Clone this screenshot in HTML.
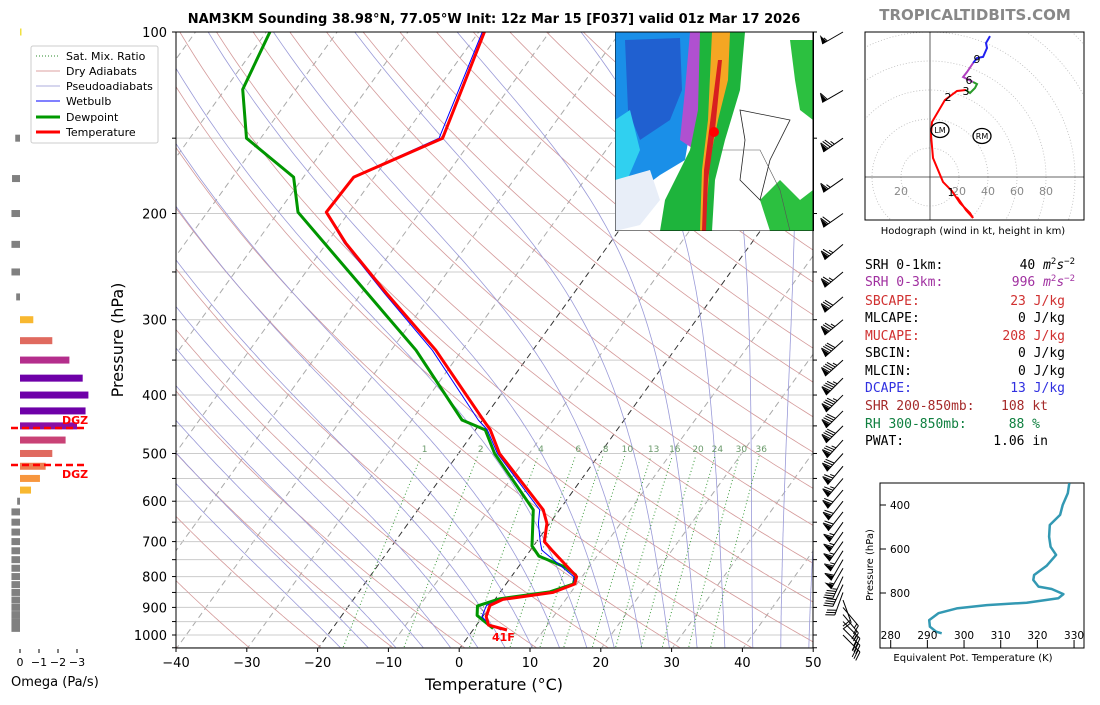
<!DOCTYPE html>
<html><head><meta charset="utf-8"><style>
html,body{margin:0;padding:0;background:#fff;}
svg text{font-family:"DejaVu Sans","Liberation Sans",sans-serif;}
.mono{font-family:"DejaVu Sans Mono","Liberation Mono",monospace;font-size:13px;}
</style></head><body>
<svg id="s" width="1100" height="700" viewBox="0 0 1100 700" xmlns="http://www.w3.org/2000/svg">
<defs>
<clipPath id="cp"><rect x="176" y="32" width="637" height="616"/></clipPath>
<clipPath id="hc"><rect x="865" y="32" width="219" height="188"/></clipPath>
<clipPath id="rc"><rect x="615" y="32" width="199" height="199"/></clipPath>
</defs>
<text x="494" y="23" text-anchor="middle" font-size="13" font-weight="bold">NAM3KM Sounding 38.98°N, 77.05°W Init: 12z Mar 15 [F037] valid 01z Mar 17 2026</text>
<text x="975" y="20" text-anchor="middle" font-size="15" font-weight="bold" fill="#888">TROPICALTIDBITS.COM</text>
<g id="bg" clip-path="url(#cp)"></g>
<g id="prof" clip-path="url(#cp)"></g>
<g id="radar" clip-path="url(#rc)">
<rect x="615" y="32" width="199" height="199" fill="#fff"/>
<path d="M615,32 L700,32 L695,80 L690,130 L685,160 L660,175 L640,190 L615,200 Z" fill="#1a8fe8"/>
<path d="M625,40 L680,38 L682,90 L670,120 L640,140 L628,110 Z" fill="#2060d0"/>
<path d="M615,120 L630,110 L640,150 L625,185 L615,190 Z" fill="#30d0f0"/>
<path d="M615,180 L650,170 L660,200 L640,225 L615,231 Z" fill="#e8eef8"/>
<path d="M690,32 L712,32 L710,90 L700,130 L695,150 L680,140 L685,90 Z" fill="#b050d0"/>
<path d="M700,32 L745,32 L740,90 L725,140 L715,180 L712,231 L660,231 L665,200 L690,150 L698,110 Z" fill="#1eb43c"/>
<path d="M712,32 L730,32 L728,80 L718,120 L710,160 L705,231 L700,231 L702,170 L708,120 Z" fill="#f5a623"/>
<path d="M718,60 L722,60 L715,130 L708,180 L706,231 L702,231 L704,170 Z" fill="#d82020"/>
<path d="M760,200 L780,180 L800,200 L813,190 L813,231 L770,231 Z" fill="#2cc040"/>
<path d="M790,40 L813,40 L813,120 L800,110 L795,80 Z" fill="#2cc040"/>
<path d="M740,110 L790,120 L770,160 L760,200 L740,180 L745,140 Z" fill="none" stroke="#222" stroke-width="0.8"/>
<path d="M720,150 L760,150 L780,190 L790,231" fill="none" stroke="#555" stroke-width="0.6"/>
<circle cx="714" cy="132" r="5" fill="#f00"/>
<rect x="615" y="32" width="199" height="199" fill="none" stroke="#000" stroke-width="1"/>
</g>
<g id="axes"></g>
<g id="barbs"></g>
<g id="omega"></g>
<g id="hodo"></g>
<g id="thetae"></g>
<g>
<rect x="31" y="46" width="127" height="97" fill="#fff" stroke="#ccc" rx="2"/>
<line x1="36" y1="56" x2="60" y2="56" stroke="#2a8a2a" stroke-dasharray="1,2"/><text x="66" y="60" font-size="11">Sat. Mix. Ratio</text>
<line x1="36" y1="71" x2="60" y2="71" stroke="#d08080" stroke-width="0.8"/><text x="66" y="75" font-size="11">Dry Adiabats</text>
<line x1="36" y1="86" x2="60" y2="86" stroke="#9090d0" stroke-width="0.8"/><text x="66" y="90" font-size="11">Pseudoadiabats</text>
<line x1="36" y1="101" x2="60" y2="101" stroke="#00f" stroke-width="1"/><text x="66" y="105" font-size="11">Wetbulb</text>
<line x1="36" y1="117" x2="60" y2="117" stroke="#090" stroke-width="3"/><text x="66" y="121" font-size="11">Dewpoint</text>
<line x1="36" y1="132" x2="60" y2="132" stroke="#f00" stroke-width="3"/><text x="66" y="136" font-size="11">Temperature</text>
</g>
<g class="mono">
<text class="mono" x="865" y="269">SRH 0-1km:</text><text class="mono" x="1075" y="269" text-anchor="end">40 <tspan font-style="italic">m</tspan><tspan font-size="9" dy="-5">2</tspan><tspan font-style="italic" dy="5">s</tspan><tspan font-size="9" dy="-5">−2</tspan></text>
<text class="mono" x="865" y="286" fill="#a030a0">SRH 0-3km:</text><text class="mono" x="1075" y="286" text-anchor="end" fill="#a030a0">996 <tspan font-style="italic">m</tspan><tspan font-size="9" dy="-5">2</tspan><tspan font-style="italic" dy="5">s</tspan><tspan font-size="9" dy="-5">−2</tspan></text>
<text class="mono" x="865" y="305" fill="#d03030">SBCAPE:</text><text class="mono" x="1065" y="305" text-anchor="end" fill="#d03030">23 J/kg</text>
<text class="mono" x="865" y="322">MLCAPE:</text><text class="mono" x="1065" y="322" text-anchor="end">0 J/kg</text>
<text class="mono" x="865" y="340" fill="#d03030">MUCAPE:</text><text class="mono" x="1065" y="340" text-anchor="end" fill="#d03030">208 J/kg</text>
<text class="mono" x="865" y="357">SBCIN:</text><text class="mono" x="1065" y="357" text-anchor="end">0 J/kg</text>
<text class="mono" x="865" y="375">MLCIN:</text><text class="mono" x="1065" y="375" text-anchor="end">0 J/kg</text>
<text class="mono" x="865" y="392" fill="#3030e0">DCAPE:</text><text class="mono" x="1065" y="392" text-anchor="end" fill="#3030e0">13 J/kg</text>
<text class="mono" x="865" y="410" fill="#a52a2a">SHR 200-850mb:</text><text class="mono" x="1048" y="410" text-anchor="end" fill="#a52a2a">108 kt</text>
<text class="mono" x="865" y="428" fill="#108040">RH 300-850mb:</text><text class="mono" x="1040" y="428" text-anchor="end" fill="#108040">88 %</text>
<text class="mono" x="865" y="445">PWAT:</text><text class="mono" x="1048" y="445" text-anchor="end">1.06 in</text>
</g>
</svg>
<script>
// ---- data ----
const tempP=[100,150,174,199,224,271,337,440,457,500,620,653,700,723,800,823,850,873,893,932,963,981];
const tempT=[-59.2,-54.3,-62.9,-63.2,-57.3,-46.5,-33.7,-19.9,-17.9,-14.2,-2.3,-0.4,1.1,3.0,9.2,9.7,7.5,1.1,-0.1,0.5,1.7,4.8];
const dewP=[100,124.5,150,174,199,337,440,457,500,620,712,740,772,795,823,848,871,895,928,975];
const dewT=[-89.5,-87.5,-82,-71.4,-67.2,-36.5,-22.9,-18.6,-14.9,-3.7,-0.2,1.8,6.7,8.9,9.5,7.0,0.6,-1.8,-0.9,2.7];
const wetP=[100,150,174,199,224,271,337,440,457,500,620,653,700,723,800,823,850,873,893,932,963,981];
const wetT=[-59.5,-54.8,-63,-63.3,-57.5,-46.8,-34.2,-20.6,-18.3,-14.5,-2.8,-1.6,0.5,1.6,8.8,9.6,7.3,0.9,-0.6,-0.1,1.9,4.0];
const mixRatios=[1,2,4,6,8,10,13,16,20,24,30,36];
const tempTicks=[-40,-30,-20,-10,0,10,20,30,40,50];
const presTicks=[100,200,300,400,500,600,700,800,900,1000];
const barbP=[100,125,150,175,200,225,250,275,300,325,350,375,400,425,450,475,500,525,550,575,600,625,650,675,700,725,750,775,800,825,850,875,900,925,950,975,1000];
const barbSpd=[55,60,85,65,70,75,75,80,85,90,95,95,95,90,90,85,80,75,75,70,70,70,65,65,65,65,60,55,45,40,30,20,15,20,25,30,35];
const barbDir=[240,240,235,235,235,230,230,230,230,228,228,225,225,225,225,222,222,220,220,220,218,218,215,215,215,212,210,210,205,205,200,160,140,140,135,135,135];
const omegaP=[100,150,175,200,225,250,275,300,325,350,375,400,425,450,475,500,525,550,575,600,625,650,675,700,725,750,775,800,825,850,875,900,925,950,975];
const omegaV=[-0.05,0.25,0.42,0.45,0.45,0.45,0.2,-0.7,-1.7,-2.6,-3.3,-3.6,-3.45,-3.0,-2.4,-1.7,-1.35,-1.05,-0.58,0.15,0.45,0.45,0.45,0.45,0.45,0.45,0.45,0.45,0.45,0.45,0.45,0.45,0.45,0.45,0.45];
const omegaTicks=[0,-1,-2,-3];
const hodoU=[18.6,24.8,29.7,27.6,20.7,15.2,9.0,2.1,0.7,1.4,10.3,18.6,24.8,27.6,31.0,32.4,29.7,22.8,25.5,29.7,32.4,36.6,39.3,38.6,41.4];
const hodoV=[-13.8,-22.8,-28.3,-24.8,-17.9,-9.7,-3.4,13.1,29.0,37.9,53.1,59.3,60.0,57.9,61.4,64.1,65.5,69.0,72.4,78.6,82.1,82.8,89.0,92.4,97.2];
const thetaK=[328.7,328.3,326.9,326.2,323.4,323.2,323.6,325.1,322.5,319.1,318.9,320.3,323.9,327.1,325.7,317.1,306.2,298.0,293.0,290.5,290.7,292.4,293.9];
const thetaP=[301,347,400,445,491,544,590,627,677,718,741,771,782,805,824,844,855,870,892,923,953,976,983];
const thetaXTicks=[280,290,300,310,320,330];
const thetaYTicks=[400,600,800];

const NS='http://www.w3.org/2000/svg';
function mk(parent,tag,attrs,txt){const e=document.createElementNS(NS,tag);for(const k in attrs)e.setAttribute(k,attrs[k]);if(txt!==undefined)e.textContent=txt;parent.appendChild(e);return e;}
const yP=p=>32+603*Math.log10(p/100);
const xT=(T,p)=>460+7.08*T+0.72*(648-yP(p));
const G=id=>document.getElementById(id);

// background lines
const bg=G('bg');
function polyPts(fn){let s=[];for(let p=1060;p>=95;p-=5){s.push(xT(fn(p),p).toFixed(1)+','+yP(p).toFixed(1));}return s.join(' ');}
for(let T=-130;T<=50;T+=10){
  const l=mk(bg,'line',{x1:xT(T,1060),y1:yP(1060),x2:xT(T,95),y2:yP(95),stroke:(T===0||T===-20)?'#333':'#aaa','stroke-dasharray':'6,4','stroke-width':1});
  
  
}
for(let p=100;p<=1050;p+=50){
  const l=mk(bg,'line',{x1:176,x2:813,y1:yP(p),y2:yP(p),stroke:'#ccc','stroke-width':1});
  
  
}
for(let th=220;th<=520;th+=10){
  const l=mk(bg,'polyline',{points:polyPts(p=>th*Math.pow(p/1000,0.2857)-273.15),fill:'none',stroke:'#d49a9a','stroke-width':0.8});
  
  
}
function es(T){return 6.112*Math.exp(17.67*T/(T+243.5));}
function dTdp(T,p){const Tk=T+273.15,e=es(T),r=0.622*e/(p-e);return (287*Tk+2.5e6*r)/(p*(1005+2.5e6*2.5e6*r*0.622/(287*Tk*Tk)));}
for(let T0=-20;T0<=48;T0+=4){
  let pts=[];let T=T0;
  for(let p=1000;p<=1060;p+=5){pts.push([p,T]);T+=dTdp(T,p)*5;}
  pts.reverse();T=T0;
  for(let p=1000;p>=100;p-=5){if(p<1000)pts.push([p,T]);T-=dTdp(T,p)*5;}
  const l=mk(bg,'polyline',{points:pts.map(a=>xT(a[1],a[0]).toFixed(1)+','+yP(a[0]).toFixed(1)).join(' '),fill:'none',stroke:'#9a9ad8','stroke-width':0.8});
  
  
}
function tdMix(w,p){const e=w*p/(622+w);const a=Math.log(e/6.112);return 243.5*a/(17.67-a);}
mixRatios.forEach(w=>{
  let s=[];for(let p=1060;p>=505;p-=5)s.push(xT(tdMix(w,p),p).toFixed(1)+','+yP(p).toFixed(1));
  const l=mk(bg,'polyline',{points:s.join(' '),fill:'none',stroke:'#3a9a3a','stroke-dasharray':'1,2.5','stroke-width':1});
  
  
  const t=mk(bg,'text',{x:xT(tdMix(w,490),490),y:452,'text-anchor':'middle','font-size':9,fill:'#6a9a6a'},String(w));
  
  
});

// profiles
const prof=G('prof');
function drawProf(P,T,color,w,name){
  const l=mk(prof,'polyline',{points:P.map((p,i)=>xT(T[i],p).toFixed(1)+','+yP(p).toFixed(1)).join(' '),fill:'none',stroke:color,'stroke-width':w,'stroke-linejoin':'round'});
  
  
}
drawProf(dewP,dewT,'#009600',3,'dewpoint-line');
drawProf(wetP,wetT,'#0000ff',1,'wetbulb-line');
drawProf(tempP,tempT,'#ff0000',3,'temperature-line');
const sl=mk(prof,'text',{x:492,y:641,'font-size':11,'font-weight':'bold',fill:'#f00'},'41F');



// axes
const ax=G('axes');
mk(ax,'rect',{x:176,y:32,width:637,height:616,fill:'none',stroke:'#000','stroke-width':1});
tempTicks.forEach(T=>{const x=176+7.08*(T+40);
  mk(ax,'line',{x1:x,x2:x,y1:648,y2:652,stroke:'#000'});
  const t=mk(ax,'text',{x:x,y:667,'text-anchor':'middle','font-size':13},(T<0?'−':'')+Math.abs(T));
  
  });
for(let p=100;p<=1050;p+=50){const y=yP(p);
  mk(ax,'line',{x1:172,x2:176,y1:y,y2:y,stroke:'#000'});
  mk(ax,'line',{x1:813,x2:817,y1:y,y2:y,stroke:'#000'});}
presTicks.forEach(p=>{const t=mk(ax,'text',{x:167,y:yP(p)+5,'text-anchor':'end','font-size':13},String(p));
  
  });
mk(ax,'text',{x:494,y:690,'text-anchor':'middle','font-size':16},'Temperature (°C)');
mk(ax,'text',{x:123,y:340,'text-anchor':'middle','font-size':16,transform:'rotate(-90 123 340)'},'Pressure (hPa)');

// wind barbs
const bb=G('barbs');
barbP.forEach((p,i)=>{
  const s=barbSpd[i],d=barbDir[i]*Math.PI/180;
  const ax0=843,ay0=yP(p);
  const ux=Math.sin(d),uy=-Math.cos(d); // toward from-direction (screen)
  const px=-uy,py=ux;
  const L=24,tx=ax0+ux*L,ty=ay0+uy*L;
  const g=mk(bb,'g',{});
  
  
  mk(g,'line',{x1:ax0,y1:ay0,x2:tx,y2:ty,stroke:'#000','stroke-width':1});
  let rem=Math.round(s/5)*5,off=0;
  while(rem>=50){const bx=tx-ux*off,by=ty-uy*off;
    mk(g,'polygon',{points:`${bx},${by} ${bx+px*9-ux*2.5},${by+py*9-uy*2.5} ${bx-ux*5},${by-uy*5}`,fill:'#000'});off+=6;rem-=50;}
  while(rem>=10){const bx=tx-ux*off,by=ty-uy*off;
    mk(g,'line',{x1:bx,y1:by,x2:bx+px*9+ux*3,y2:by+py*9+uy*3,stroke:'#000','stroke-width':1});off+=2.5;rem-=10;}
  if(rem>=5){if(off===0)off=2.5;const bx=tx-ux*off,by=ty-uy*off;
    mk(g,'line',{x1:bx,y1:by,x2:bx+px*4.5+ux*1.5,y2:by+py*4.5+uy*1.5,stroke:'#000','stroke-width':1});}
});

// omega panel
const om=G('omega');
function omColor(v){if(v>=0)return '#808080';const a=-v;
  if(a<0.3)return '#f0e040';if(a<0.9)return '#f8b830';if(a<1.2)return '#f7963e';if(a<1.5)return '#ee7e50';
  if(a<2.0)return '#e06a5f';if(a<2.5)return '#c94276';if(a<2.8)return '#b42e8c';if(a<3.2)return '#8a0ea5';return '#6e00a8';}
omegaP.forEach((p,i)=>{const v=omegaV[i],x0=20,x1=20-19*v;const y=yP(p);
  const r=mk(om,'rect',{x:Math.min(x0,x1),y:y-3.5,width:Math.max(Math.abs(x1-x0),1.5),height:7,fill:omColor(v)});
  
  });
[428,465].forEach(y=>mk(om,'line',{x1:11,x2:87,y1:y,y2:y,stroke:'#f00','stroke-width':2.5,'stroke-dasharray':'7,4'}));
mk(om,'text',{x:62,y:424,'font-size':11,'font-weight':'bold',fill:'#f00'},'DGZ');
mk(om,'text',{x:62,y:478,'font-size':11,'font-weight':'bold',fill:'#f00'},'DGZ');
omegaTicks.forEach(v=>{const x=20-19*v;mk(om,'line',{x1:x,x2:x,y1:649,y2:653,stroke:'#000'});
  const t=mk(om,'text',{x:x,y:666,'text-anchor':'middle','font-size':11},v===0?'0':'−'+Math.abs(v));
  
  });
mk(om,'text',{x:11,y:686,'font-size':13},'Omega (Pa/s)');

// hodograph
const hd=G('hodo');
const hx=u=>930+1.45*u, hy=v=>177-1.45*v;
const hc=mk(hd,'g',{'clip-path':'url(#hc)'});
for(let r=20;r<=160;r+=20)mk(hc,'circle',{cx:930,cy:177,r:r*1.45,fill:'none',stroke:'#bbb','stroke-dasharray':'1,2','stroke-width':0.8});
mk(hc,'line',{x1:930,x2:930,y1:32,y2:220,stroke:'#333','stroke-width':0.8});
mk(hc,'line',{x1:865,x2:1084,y1:177,y2:177,stroke:'#333','stroke-width':0.8});
[[-20,'20'],[20,'20'],[40,'40'],[60,'60'],[80,'80']].forEach(a=>mk(hc,'text',{x:hx(a[0]),y:195,'text-anchor':'middle','font-size':11,fill:'#888'},a[1]));
const segs=[[0,12,'#f00'],[12,16,'#2a9a2a'],[16,19,'#b040c0'],[19,hodoU.length-1,'#2020f0']];
segs.forEach(sg=>{let pts=[];for(let i=sg[0];i<=sg[1];i++)pts.push(hx(hodoU[i]).toFixed(1)+','+hy(hodoV[i]).toFixed(1));
  const l=mk(hc,'polyline',{points:pts.join(' '),fill:'none',stroke:sg[2],'stroke-width':2});
  
  });
[['1',951,196],['2',948,101],['3',966,95],['6',969,84],['9',977,63]].forEach(a=>mk(hc,'text',{x:a[1],y:a[2],'text-anchor':'middle','font-size':11},a[0]));
mk(hc,'ellipse',{cx:940,cy:130,rx:9,ry:7.5,fill:'none',stroke:'#000','stroke-width':1.3});
mk(hc,'text',{x:940,y:133,'text-anchor':'middle','font-size':8},'LM');
mk(hc,'ellipse',{cx:982,cy:136,rx:9,ry:7.5,fill:'none',stroke:'#000','stroke-width':1.3});
mk(hc,'text',{x:982,y:139,'text-anchor':'middle','font-size':8},'RM');
mk(hd,'rect',{x:865,y:32,width:219,height:188,fill:'none',stroke:'#000','stroke-width':1});
mk(hd,'text',{x:973,y:234,'text-anchor':'middle','font-size':10},'Hodograph (wind in kt, height in km)');

// theta-e panel
const te=G('thetae');
const tx=K=>890.7+3.667*(K-280), ty=p=>505+0.22*(p-400);
mk(te,'rect',{x:880,y:483,width:204,height:165,fill:'#fff',stroke:'#000','stroke-width':1});
const tl=mk(te,'polyline',{points:thetaK.map((k,i)=>tx(k).toFixed(1)+','+ty(thetaP[i]).toFixed(1)).join(' '),fill:'none',stroke:'#3399b3','stroke-width':2.5,'stroke-linejoin':'round'});


thetaXTicks.forEach(k=>{mk(te,'line',{x1:tx(k),x2:tx(k),y1:640,y2:648,stroke:'#000'});
  mk(te,'text',{x:tx(k),y:639,'text-anchor':'middle','font-size':10.5},String(k));});
thetaYTicks.forEach(p=>{mk(te,'line',{x1:880,x2:886,y1:ty(p),y2:ty(p),stroke:'#000'});
  mk(te,'text',{x:910,y:ty(p)+4,'text-anchor':'end','font-size':10.5},String(p));});
mk(te,'text',{x:973,y:661,'text-anchor':'middle','font-size':10},'Equivalent Pot. Temperature (K)');
mk(te,'text',{x:873,y:565,'text-anchor':'middle','font-size':10,transform:'rotate(-90 873 565)'},'Pressure (hPa)');
</script>
</body></html>
